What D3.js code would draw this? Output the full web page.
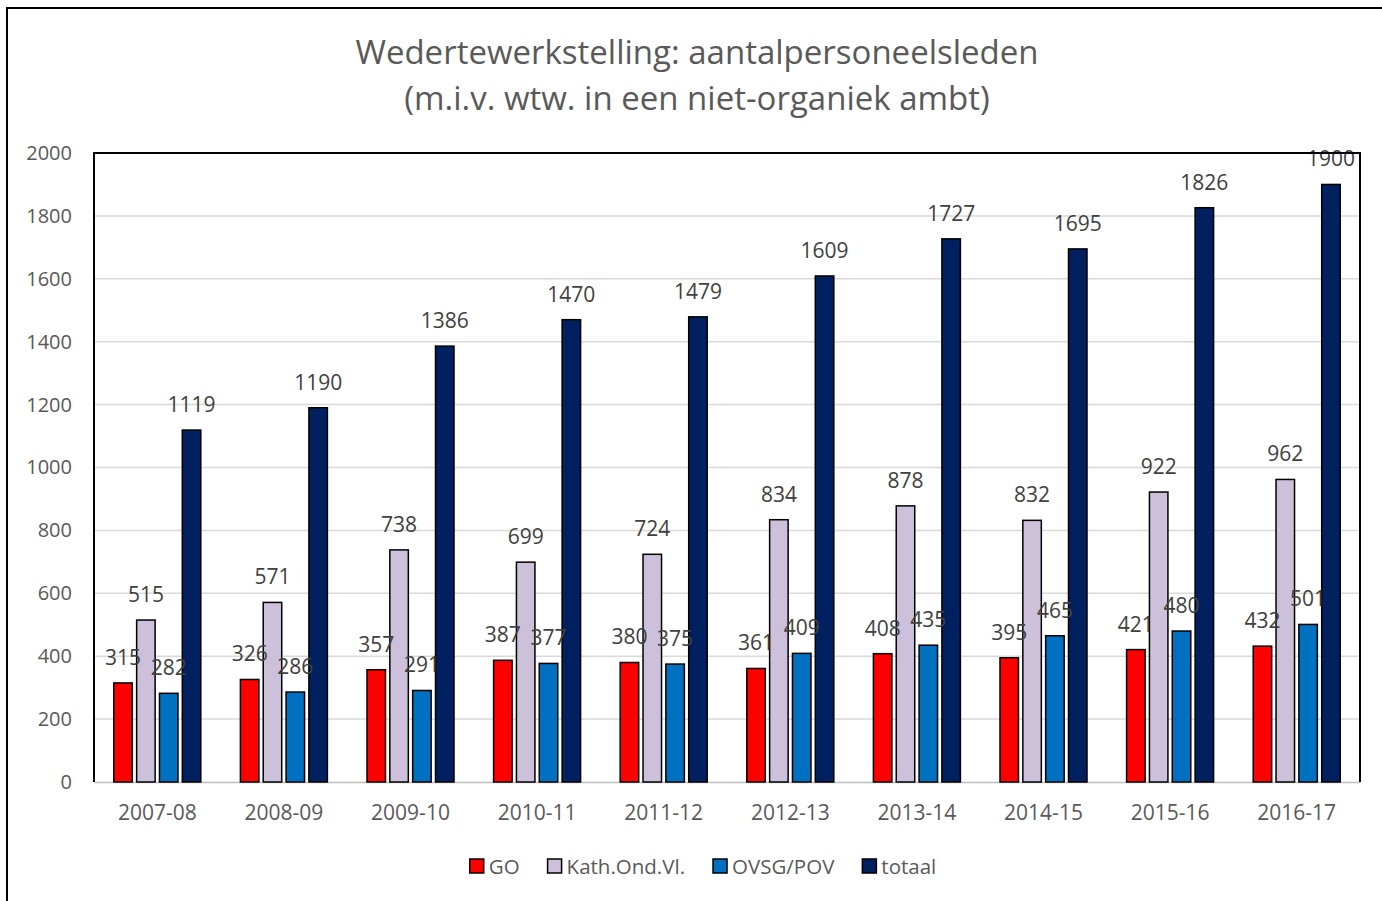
<!DOCTYPE html>
<html><head><meta charset="utf-8">
<script src="https://cdn.jsdelivr.net/npm/d3@7/dist/d3.min.js"></script>
<style>body{margin:0;background:#fff}svg{display:block}</style>
</head><body>
<svg id="c" width="1382" height="901"></svg>
<script>
const categories = ["2007-08","2008-09","2009-10","2010-11","2011-12","2012-13","2013-14","2014-15","2015-16","2016-17"];
const seriesNames = ["GO","Kath.Ond.Vl.","OVSG/POV","totaal"];
const GO = [315,326,357,387,380,361,408,395,421,432];
const Kath = [515,571,738,699,724,834,878,832,922,962];
const OVSG = [282,286,291,377,375,409,435,465,480,501];
const totaal = [1119,1190,1386,1470,1479,1609,1727,1695,1826,1900];
const yTicks = [0,200,400,600,800,1000,1200,1400,1600,1800,2000];
const titleLines = ["Wedertewerkstelling: aantalpersoneelsleden","(m.i.v. wtw. in een niet-organiek ambt)"];

const colors = ["#ff0000","#ccc0da","#0070c0","#002060"];
const seriesVals = [GO,Kath,OVSG,totaal];
const font = "'Open Sans', sans-serif";
const txt = "#595959";

const svg = d3.select("#c");
const L=94,R=1360,T=153,B=782;

svg.append("rect").attr("x",7).attr("y",8).attr("width",1400).attr("height",1000)
  .attr("fill","#fff").attr("stroke","#000").attr("stroke-width",2);

const title = svg.append("text").attr("text-anchor","middle").attr("fill",txt)
  .style("font-family",font).style("font-size","33px");
titleLines.forEach((t,i)=>title.append("tspan").attr("x",697).attr("y",64+i*46).text(t));

const y = d3.scaleLinear().domain([0,2000]).range([B,T]);
const x0 = d3.scaleBand().domain(categories).range([L,R]);
const x1 = d3.scaleBand().domain(seriesNames).range([-43.5,43.5]).paddingInner(0.19);

// gridlines
svg.append("g").selectAll("line").data(yTicks.filter(d=>d>0)).join("line")
  .attr("x1",L).attr("x2",R).attr("y1",d=>y(d)).attr("y2",d=>y(d))
  .attr("stroke","#d9d9d9").attr("stroke-width",1.5);

// y axis labels
const yAxis = d3.axisLeft(y).tickValues(yTicks).tickFormat(d3.format("d")).tickSize(0).tickPadding(22);
const gy = svg.append("g").attr("transform",`translate(${L},0)`).call(yAxis);
gy.select(".domain").remove();
gy.selectAll("text").style("font-family",font).style("font-size","20px").attr("fill",txt);

// x axis
const xAxis = d3.axisBottom(x0).tickSize(0).tickPadding(23);
const gx = svg.append("g").attr("transform",`translate(0,${B})`).call(xAxis);
gx.select(".domain").attr("stroke","#bfbfbf").attr("stroke-width",1.5);
gx.selectAll("text").style("font-family",font).style("font-size","21px").attr("fill",txt);

// bars
const groups = svg.append("g").selectAll("g").data(categories).join("g")
  .attr("transform",d=>`translate(${x0(d)+x0.bandwidth()/2},0)`);
seriesNames.forEach((s,si)=>{
  groups.append("rect")
    .attr("x",x1(s)).attr("width",x1.bandwidth())
    .attr("y",(d,i)=>y(seriesVals[si][i])).attr("height",(d,i)=>B-y(seriesVals[si][i]))
    .attr("fill",colors[si]).attr("stroke","#000").attr("stroke-width",1.5);
});
seriesNames.forEach((s,si)=>{
  groups.append("text")
    .attr("x",x1(s)+x1.bandwidth()/2).attr("y",(d,i)=>y(seriesVals[si][i])-18)
    .attr("text-anchor","middle").style("font-family",font).style("font-size","21px")
    .attr("fill","#404040").text((d,i)=>seriesVals[si][i]);
});

// plot frame left/top/right
svg.append("path").attr("d",`M${L},${B}V${T}H${R}V${B}`).attr("fill","none")
  .attr("stroke","#000").attr("stroke-width",2);

// legend
const lg = svg.append("g");
let cx = 0;
const gap = 28;
seriesNames.forEach((s,i)=>{
  const g = lg.append("g").attr("transform",`translate(${cx},0)`);
  g.append("rect").attr("x",0).attr("y",-7).attr("width",14).attr("height",14)
    .attr("fill",colors[i]).attr("stroke","#000").attr("stroke-width",1.5);
  const t = g.append("text").attr("x",19).attr("y",7.5).style("font-family",font).style("font-size","20.5px")
    .attr("fill",txt).text(s);
  cx += 19 + t.node().getComputedTextLength() + gap;
});
const lw = cx - gap;
lg.attr("transform",`translate(${703-lw/2},866)`);
</script>
</body></html>
